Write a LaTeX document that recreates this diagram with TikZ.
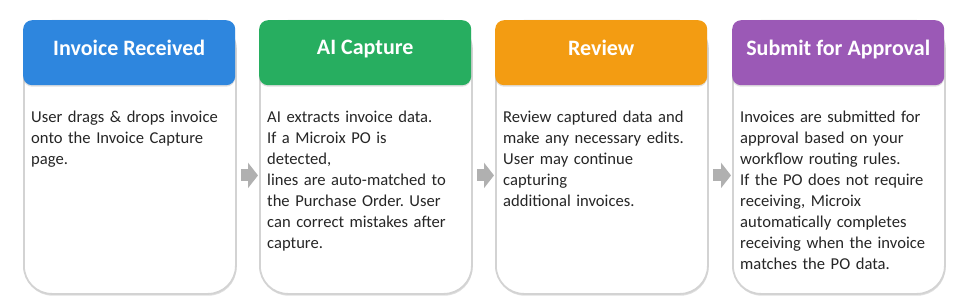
\documentclass[tikz,border=0pt]{standalone}
\usepackage{fontspec}
\setmainfont{Carlito}
\usetikzlibrary{arrows.meta,positioning,shadows}
\definecolor{recvc}{HTML}{2E86DE}
\definecolor{capc}{HTML}{27AE60}
\definecolor{revc}{HTML}{F39C12}
\definecolor{subc}{HTML}{9B59B6}
\definecolor{cardc}{HTML}{D3D3D3}
\definecolor{arrowc}{HTML}{B0B0B0}
\definecolor{textc}{HTML}{262626}
\frenchspacing

\begin{document}
\begin{tikzpicture}[
    x=1pt,y=-1pt,
    card/.style={rectangle,draw=cardc,line width=1.8pt,fill=white,rounded corners=28pt,
      minimum width=212pt,minimum height=273pt,anchor=north west,inner sep=0pt,
      drop shadow={shadow xshift=0.6pt,shadow yshift=-1.8pt,opacity=0.25}},
    head/.style={rectangle,fill=#1,rounded corners=9pt,minimum width=212pt,
      minimum height=65pt,anchor=north west,inner sep=0pt,
      drop shadow={shadow xshift=0pt,shadow yshift=-1.5pt,opacity=0.25}},
    ttl/.style={font=\fontsize{22}{26}\selectfont\bfseries,text=white,inner sep=0pt},
    txt/.style={font=\fontsize{16.6}{21}\selectfont,text=textc,text width=206pt,
      align=left,anchor=north west,inner sep=0pt},
    flow/.style={-{Triangle[length=10pt,width=25pt]},arrowc,line width=12pt,
      shorten <=4pt,shorten >=1pt},
  ]
\useasboundingbox (0,0) rectangle (957,307);

% ======================= step 1: invoice received =======================
\node[card] (card1) at (23,20) {};
\node[head=recvc] (head1) at (23,20) {};
\node[ttl,below=20pt of head1.north] {Invoice Received};
\node[txt] (body1) at (31,111) {User drags \& drops invoice\\onto the Invoice Capture\\page.};

% ======================= step 2: AI capture =======================
\node[card] (card2) at (259,20) {};
\node[head=capc] (head2) at (259,20) {};
\node[ttl,below=20pt of head2.north] {AI Capture};
\node[txt] (body2) at (267,111) {AI extracts invoice data.\\If a Microix PO is\\detected,\\lines are auto-matched to\\the Purchase Order. User\\can correct mistakes after\\capture.};

% ======================= step 3: review =======================
\node[card] (card3) at (495,20) {};
\node[head=revc] (head3) at (495,20) {};
\node[ttl,below=20pt of head3.north] {Review};
\node[txt] (body3) at (503,111) {Review captured data and\\make any necessary edits.\\User may continue\\capturing\\additional invoices.};

% ======================= step 4: submit for approval =======================
\node[card] (card4) at (732,20) {};
\node[head=subc] (head4) at (732,20) {};
\node[ttl,below=20pt of head4.north] {Submit for Approval};
\node[txt] (body4) at (740,111) {Invoices are submitted for\\approval based on your\\workflow routing rules.\\If the PO does not require\\receiving, Microix\\automatically completes\\receiving when the invoice\\matches the PO data.};

% grey block arrows between the cards
\draw[flow] ([yshift=-18pt]card1.east) -- ([yshift=-18pt]card2.west);
\draw[flow] ([yshift=-18pt]card2.east) -- ([yshift=-18pt]card3.west);
\draw[flow] ([yshift=-18pt]card3.east) -- ([yshift=-18pt]card4.west);

\end{tikzpicture}
\end{document}
